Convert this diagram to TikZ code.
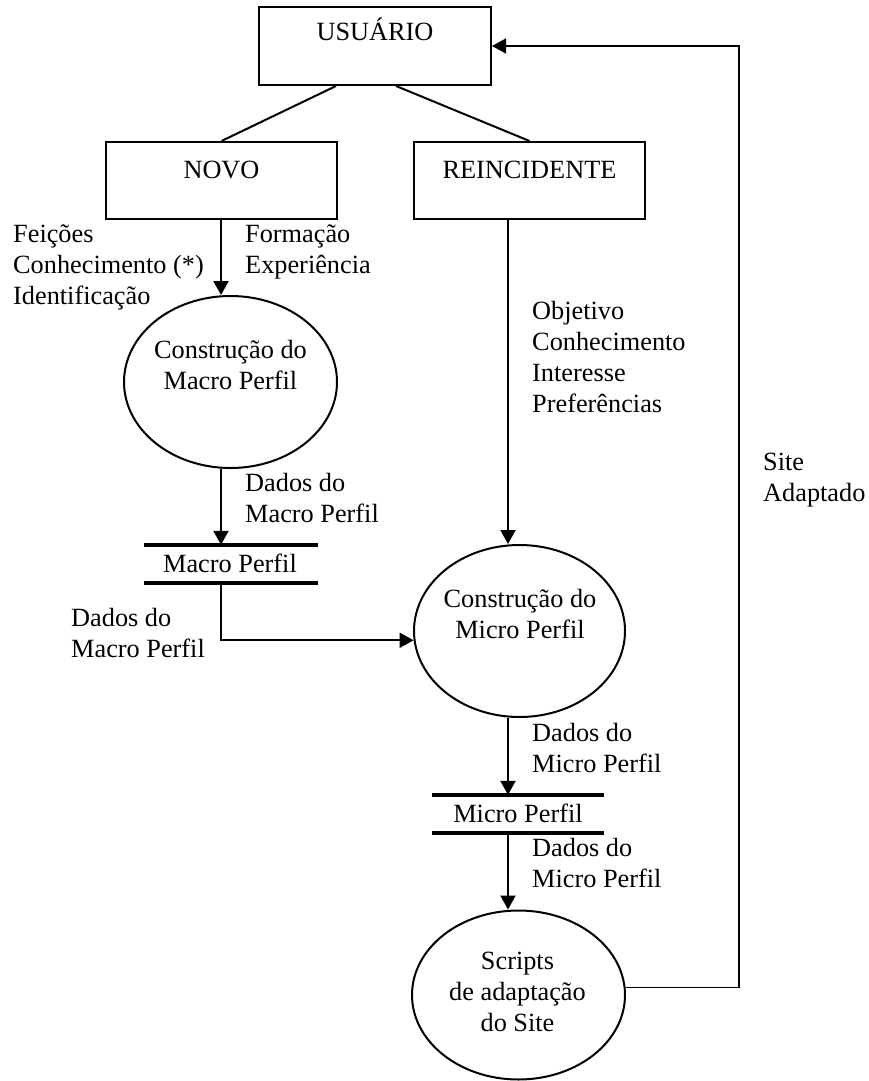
\documentclass[tikz,border=0pt]{standalone}
\usepackage{fontspec}
\setmainfont{Liberation Serif}
\usetikzlibrary{arrows.meta,calc,shapes.geometric}

\begin{document}
\begin{tikzpicture}[x=1pt,y=-1pt,
  every node/.style={font=\fontsize{26.3}{31}\selectfont},
  box/.style={draw, line width=2pt, minimum width=232pt, minimum height=78pt, inner sep=0pt},
  proc/.style={draw, ellipse, line width=2pt, inner sep=0pt},
  store/.style={inner sep=0pt, minimum width=174pt, minimum height=38pt},
  bar/.style={line width=4.5pt},
  flow/.style={line width=2pt, -{Triangle[length=14pt,width=15pt]}},
  link/.style={line width=2pt},
  txtone/.style={anchor=base, inner sep=0pt},
  txtL/.style={anchor=north west, align=left, inner sep=0pt, yshift=21.7pt, execute at begin node=\strut},
  txtC/.style={anchor=north, align=center, inner sep=0pt, yshift=21.7pt, execute at begin node=\strut},
]
\useasboundingbox (0,0) rectangle (868,1081);

% columns of the vertical flows and the corner of the return path
\coordinate (colA) at (221,0);
\coordinate (colB) at (508,0);
\coordinate (fb) at (739,46);

% entities
\node[box] (user) at (375,46) {};
\node[txtone] (userT) at (375,41) {USUÁRIO};
\node[box, minimum width=231pt, minimum height=77pt] (novo) at (221.5,180.5) {};
\node[txtone] (novoT) at (221.5,178.5) {NOVO};
\node[box, minimum width=231pt, minimum height=77pt] (reinc) at (529.5,180.5) {};
\node[txtone] (reincT) at (529.5,178.5) {REINCIDENTE};

% processes
\node[proc, minimum width=213pt, minimum height=172pt] (macro) at (230.5,382) {};
\node[txtC] (macroT) at (230.5,362) {Construção do\\Macro Perfil};
\node[proc, minimum width=211pt, minimum height=172pt] (micro) at (519.5,631) {};
\node[txtC] (microT) at (520,611) {Construção do\\Micro Perfil};
\node[proc, minimum width=213pt, minimum height=169pt] (scr) at (518.5,995) {};
\node[txtC] (scrT) at (517.5,974) {Scripts\\de adaptação\\do Site};

% data stores
\node[store] (mst) at (231,564) {};
\draw[bar] (mst.north west) -- (mst.north east);
\draw[bar] (mst.south west) -- (mst.south east);
\node[txtone] (mstT) at (230,572.7) {Macro Perfil};
\node[store, minimum width=172pt] (mic) at (518,814) {};
\draw[bar] (mic.north west) -- (mic.north east);
\draw[bar] (mic.south west) -- (mic.south east);
\node[txtone] (micT) at (518,822.7) {Micro Perfil};

% flow labels
\node[txtL] (lA) at (13,246) {Feições\\Conhecimento (*)\\Identificação};
\node[txtL] (lB) at (245,246) {Formação\\Experiência};
\node[txtL] (lC) at (532,323) {Objetivo\\Conhecimento\\Interesse\\Preferências};
\node[txtL] (lD) at (245,495) {Dados do\\Macro Perfil};
\node[txtL] (lE) at (71,630) {Dados do\\Macro Perfil};
\node[txtL] (lF) at (763,475) {Site\\Adaptado};
\node[txtL] (lG) at (532,745) {Dados do\\Micro Perfil};
\node[txtL] (lH) at (532,860) {Dados do\\Micro Perfil};

% connectors
\draw[link] ($(user.south)+(-39,0)$) -- (novo.north);
\draw[link] ($(user.south)+(21,0)$) -- (reinc.north);
\draw[flow] (colA |- novo.south) -- (colA |- macro.north);
\draw[flow] (colA |- macro.south) -- (colA |- mst.north);
\draw[flow] (colA |- mst.south) |- (micro.185);
\draw[flow] (colB |- reinc.south) -- (colB |- micro.north);
\draw[flow] (colB |- micro.south) -- (colB |- mic.north);
\draw[flow] (colB |- mic.south) -- (colB |- scr.north);
\draw[flow, line width=1.6pt] (scr.4) -| (fb) -- (user.east);
\end{tikzpicture}
\end{document}
